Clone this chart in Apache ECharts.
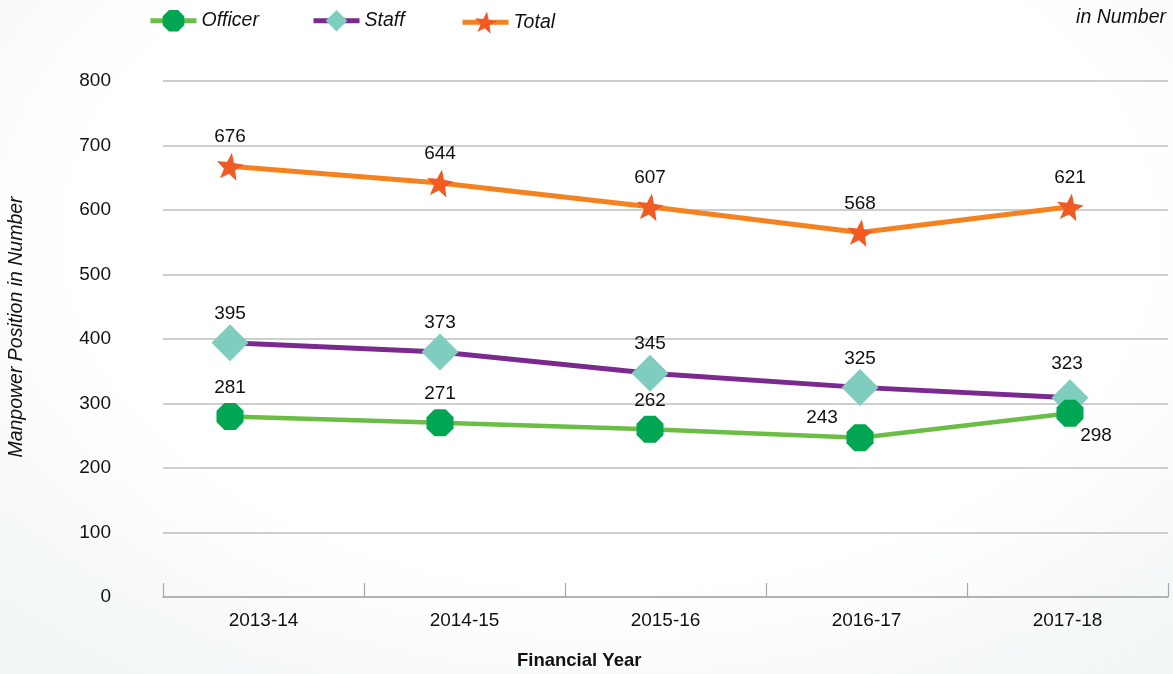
<!DOCTYPE html>
<html>
<head>
<meta charset="utf-8">
<script src="https://cdn.jsdelivr.net/npm/echarts@6/dist/echarts.min.js"></script>
<style>
  html, body { margin: 0; padding: 0; }
  #chart {
    width: 1173px; height: 674px;
    background: radial-gradient(ellipse 75% 85% at 52% 35%, #ffffff 60%, #f1f5f5 100%);
  }
</style>
</head>
<body>
<div id="chart"></div>
<script>
// ---- data ----
const categories = ['2013-14', '2014-15', '2015-16', '2016-17', '2017-18'];
const yTicks = [0, 100, 200, 300, 400, 500, 600, 700, 800];
// plotted positions
const officerValues = [280, 270, 260, 247, 285];
const staffValues   = [394, 380, 347, 325, 309];
const totalValues   = [668, 642, 605, 565, 605];
// data-label texts as printed in the picture
const officerLabels = ['281', '271', '262', '243', '298'];
const staffLabels   = ['395', '373', '345', '325', '323'];
const totalLabels   = ['676', '644', '607', '568', '621'];

const FONT = '"Liberation Sans", Arial, Helvetica, sans-serif';
const TXT = '#111111';
const starPath = 'path://M50 0 L62.34 33.01 L97.55 34.55 L69.97 56.49 L79.39 90.45 L50 71 L20.61 90.45 L30.03 56.49 L2.45 34.55 L37.66 33.01 Z';
const octPath = 'path://M30.87 3.81 L69.13 3.81 L96.19 30.87 L96.19 69.13 L69.13 96.19 L30.87 96.19 L3.81 69.13 L3.81 30.87 Z';

function buildData(values, specialOffsets) {
  return values.map((v, i) => {
    const item = { value: v };
    if (specialOffsets && specialOffsets[i]) {
      item.label = { offset: specialOffsets[i] };
    }
    return item;
  });
}

const labelBase = (labels) => ({
  show: true,
  position: 'inside',
  offset: [0, -29],
  fontFamily: FONT,
  fontSize: 19,
  color: TXT,
  formatter: (p) => labels[p.dataIndex]
});

const legendText = { fontFamily: FONT, fontSize: 19.5, fontStyle: 'italic', color: TXT };
const legendBase = { top: 5, itemWidth: 46, itemHeight: 27, itemGap: 5, lineStyle: { width: 5 }, textStyle: legendText };

const chart = echarts.init(document.getElementById('chart'), null, { renderer: 'canvas' });

const option = {
  backgroundColor: 'transparent',
  animation: false,
  textStyle: { fontFamily: FONT },
  grid: [
    { left: 163, right: 5, top: 81, bottom: 77 },
    { left: 230, right: 103, top: 81, bottom: 77 }
  ],
  xAxis: [
    {
      type: 'category', gridIndex: 0, data: categories, boundaryGap: true,
      axisLine: { show: true, lineStyle: { color: '#A7A9AC', width: 1.5 } },
      axisTick: { show: true, inside: true, length: 14, lineStyle: { color: '#A7A9AC', width: 1.2 } },
      axisLabel: { fontFamily: FONT, fontSize: 19, color: TXT, margin: 14 },
      splitLine: { show: false }
    },
    {
      type: 'category', gridIndex: 1, data: categories, boundaryGap: false, show: false
    }
  ],
  yAxis: [
    {
      type: 'value', gridIndex: 0, min: yTicks[0], max: yTicks[yTicks.length - 1], interval: 100,
      axisLine: { show: false }, axisTick: { show: false },
      axisLabel: { fontFamily: FONT, fontSize: 19, color: TXT, margin: 52 },
      splitLine: { show: true, lineStyle: { color: '#BCBEC0', width: 1.5 } }
    },
    {
      type: 'value', gridIndex: 1, min: yTicks[0], max: yTicks[yTicks.length - 1], show: false,
      splitLine: { show: false }
    }
  ],
  legend: [
    Object.assign({ left: 143, data: ['Officer'] }, legendBase),
    Object.assign({ left: 306, data: ['Staff'] }, legendBase),
    Object.assign({ left: 455, data: ['Total'] }, legendBase)
  ],
  graphic: [
    { type: 'text', right: 7, top: 8,
      style: { text: 'in Number', font: 'italic 19.5px ' + FONT, fill: TXT } },
    { type: 'text', left: 517, top: 651,
      style: { text: 'Financial Year', font: 'bold 18.5px ' + FONT, fill: TXT } },
    { type: 'text', x: 17, y: 327, rotation: Math.PI / 2,
      style: { text: 'Manpower Position in Number', font: 'italic 19.5px ' + FONT, fill: TXT,
               align: 'center', verticalAlign: 'middle' } }
  ],
  series: [
    {
      name: 'Officer', type: 'line', xAxisIndex: 1, yAxisIndex: 1,
      data: buildData(officerValues, { 3: [-38, -20], 4: [26, 23] }),
      symbol: octPath, symbolSize: 27, symbolKeepAspect: true,
      itemStyle: { color: '#00A651' },
      lineStyle: { color: '#6ABD45', width: 4.5 },
      label: labelBase(officerLabels),
      z: 3
    },
    {
      name: 'Staff', type: 'line', xAxisIndex: 1, yAxisIndex: 1,
      data: buildData(staffValues, { 4: [-3, -34] }),
      symbol: 'diamond', symbolSize: 37,
      itemStyle: { color: '#7FCDBF' },
      lineStyle: { color: '#7A2A8E', width: 5 },
      label: labelBase(staffLabels),
      z: 2
    },
    {
      name: 'Total', type: 'line', xAxisIndex: 1, yAxisIndex: 1,
      data: buildData(totalValues, null),
      symbol: starPath, symbolSize: 27, symbolRotate: -8,
      itemStyle: { color: '#F15A22' },
      lineStyle: { color: '#F58220', width: 5 },
      label: labelBase(totalLabels),
      z: 2
    }
  ]
};

chart.setOption(option);
</script>
</body>
</html>
